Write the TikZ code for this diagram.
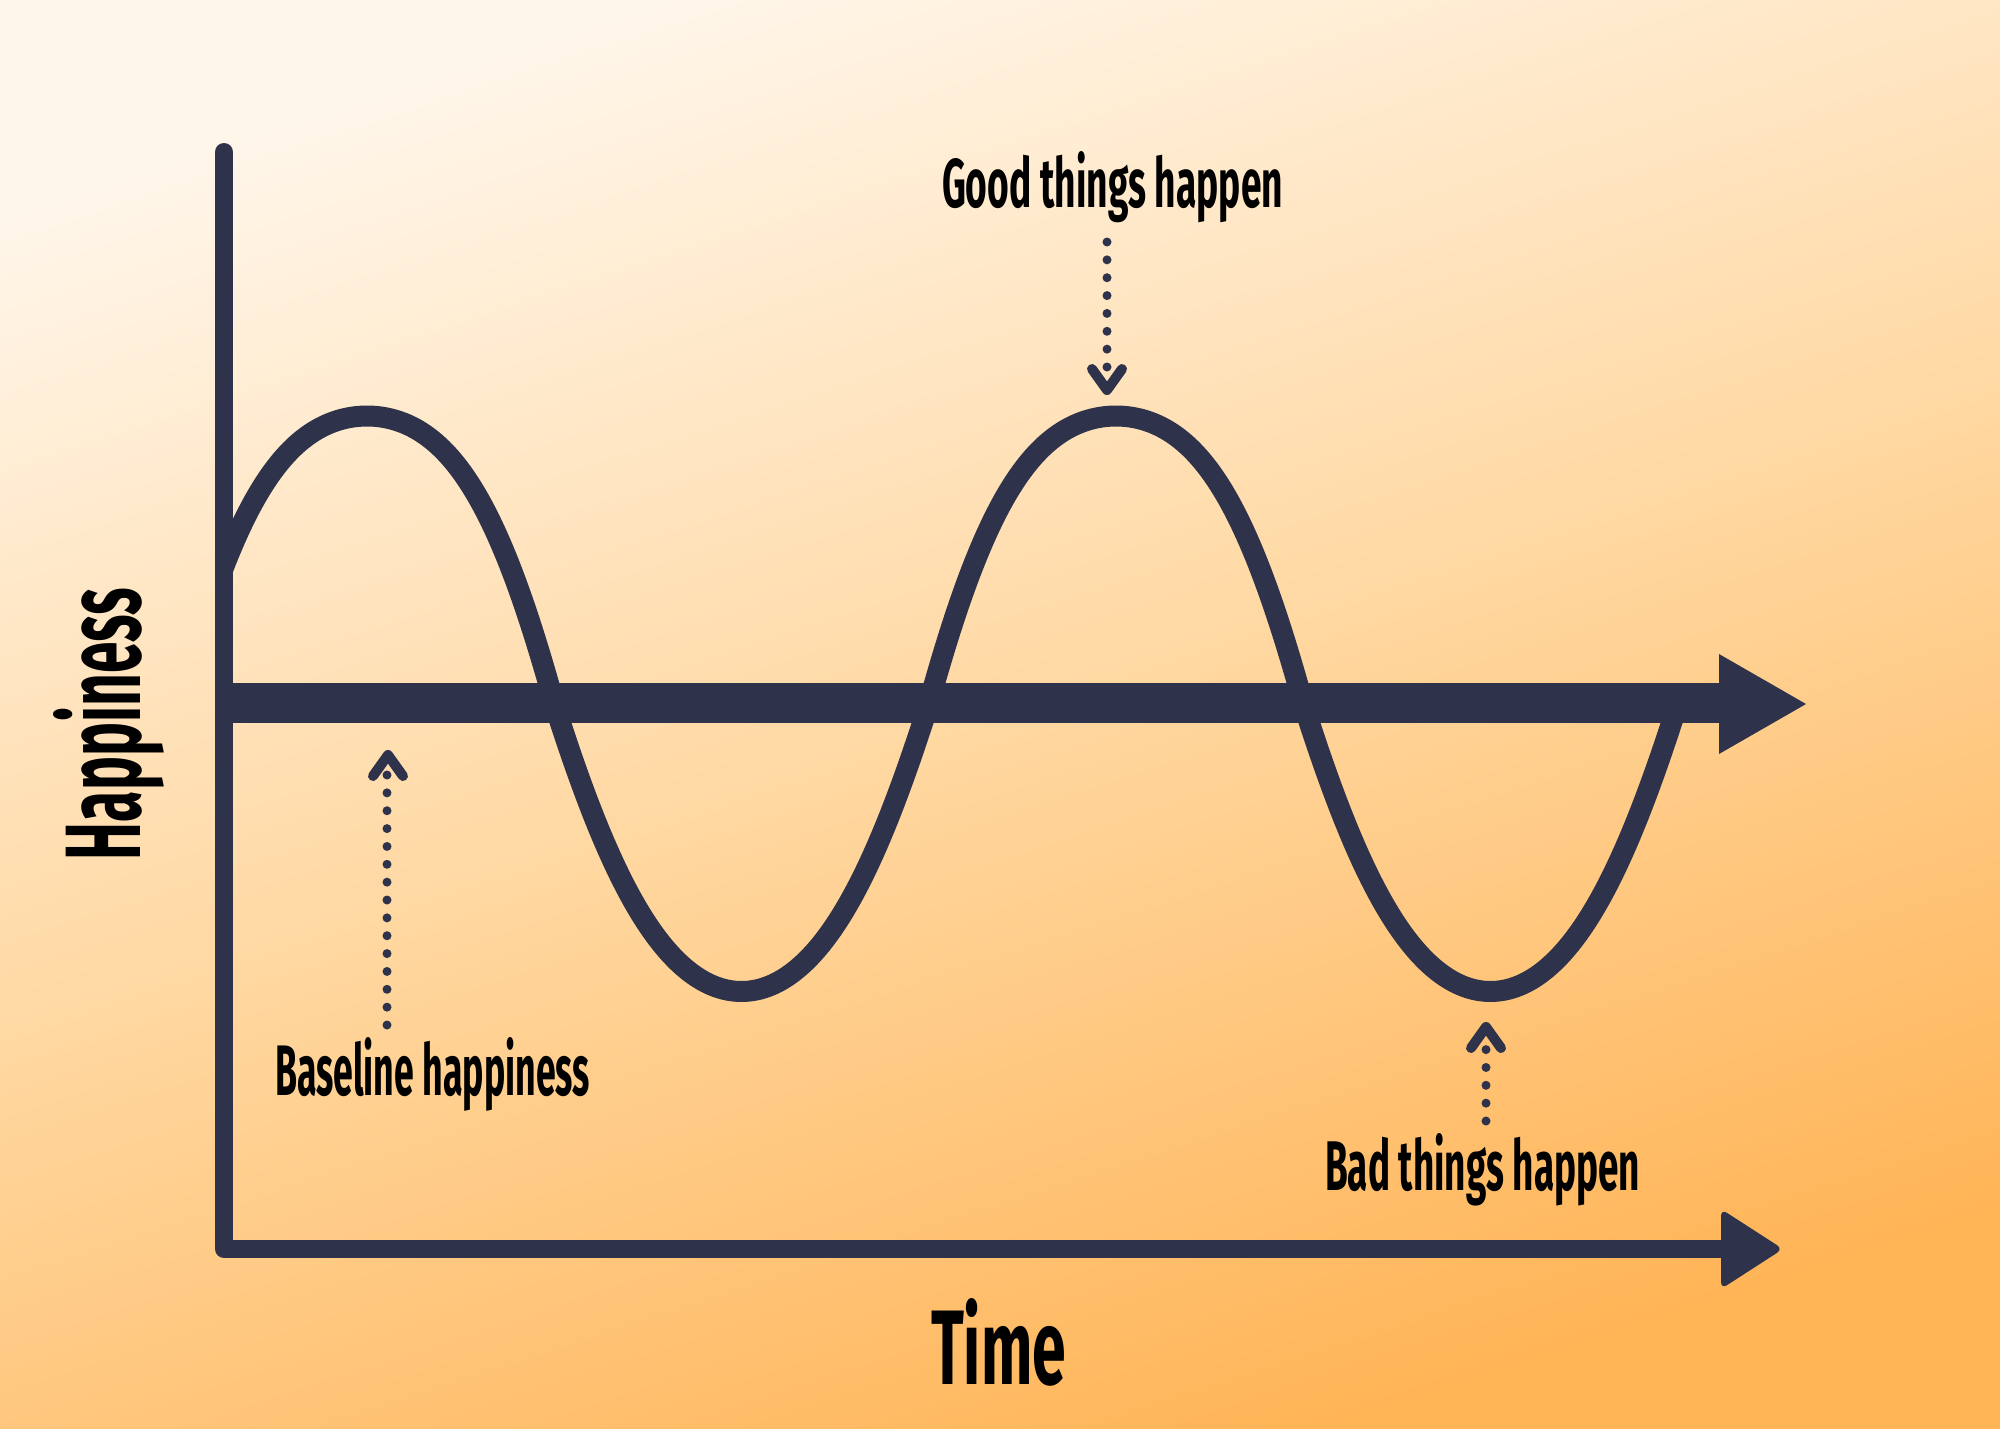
\documentclass[tikz,border=0pt]{standalone}
\usepackage{fontspec}
\setmainfont{Fira Sans}
\usepackage{graphicx}
\definecolor{navy}{HTML}{2E334B}
\definecolor{bgtop}{HTML}{FFF6EA}
\definecolor{bgmid}{HTML}{FFD8A2}
\definecolor{bgbot}{HTML}{FFB456}
\tikzset{
  axisline/.style={draw=navy, line width=18pt, line cap=round, line join=round},
  wave/.style={draw=navy, line width=21pt, line join=round},
  dotline/.style={draw=navy, line width=9pt, line cap=round, dash pattern=on 0pt off 17.857pt},
  chevron/.style={draw=navy, line width=10pt, line cap=round, line join=round},
  lbl/.style={inner sep=0pt, outer sep=0pt, text=black, font=\bfseries},
}
\begin{document}
\begin{tikzpicture}[x=1pt,y=-1pt,
  declare function={hh(\u)=\u*(1+ifthenelse(\u>0,0.5,0.3)*(1-abs(\u)));}]
\useasboundingbox (0,0) rectangle (2000,1428);
\shade[top color=bgtop, bottom color=bgbot, middle color=bgmid, shading angle=18] (0,0) rectangle (2000,1428);

% wave
\begin{scope}
\clip (224,0) rectangle (2000,1428);
\draw[wave] plot[domain=205:1681, samples=500] (\x, {703.75-287.75*hh(cos(0.480641*(\x-367)))});
\end{scope}

% baseline arrow
\coordinate (bstart) at (224,703);
\coordinate (bend) at (1722,703);
\coordinate (btip) at (1806,704);
\draw[navy, line width=40pt] (bstart) -- (bend);
\fill[navy] (1719,654) -- (btip) -- (1719,754) -- cycle;

% axes
\coordinate (ytop) at (224,152);
\coordinate (origin) at (224,1249);
\coordinate (xend) at (1730,1249);
\coordinate (xtip) at (1783,1249);
\draw[axisline] (ytop) -- (origin) -- (xend);
\fill[navy, rounded corners=7pt] (1721,1209) -- (xtip) -- (1721,1289) -- cycle;

% labels
\node[lbl, anchor=base west] (good) at (942,207) {\resizebox{341pt}{56pt}{Good things happen}};
\node[lbl, anchor=base west] (base) at (275,1095) {\resizebox{315pt}{58pt}{Baseline happiness}};
\node[lbl, anchor=base west] (bad) at (1325,1190) {\resizebox{315pt}{57pt}{Bad things happen}};
\node[lbl, anchor=base west] (time) at (931,1384) {\resizebox{135pt}{86pt}{Time}};
\node[lbl, rotate=90, anchor=base west] (happy) at (140,860) {\resizebox{272pt}{87pt}{Happiness}};

% good arrow
\coordinate (gs) at (1107,242);
\coordinate (ge) at (1107,367.1);
\coordinate (gtip) at (1107,390);
\draw[dotline] (gs) -- (ge);
\draw[chevron] (1092,369) -- (gtip) -- (1122,369);

% baseline arrow (dotted)
\coordinate (bs) at (387,1025);
\coordinate (be) at (387,774.9);
\coordinate (btipd) at (388,755);
\draw[dotline] (bs) -- (be);
\draw[chevron] (373,776) -- (btipd) -- (403,776);

% bad arrow
\coordinate (ds) at (1486,1121);
\coordinate (de) at (1486,1049.5);
\coordinate (dtip) at (1486,1027);
\draw[dotline, dash pattern=on 0pt off 17.85pt] (ds) -- (de);
\draw[chevron] (1471,1048) -- (dtip) -- (1501,1048);
\end{tikzpicture}
\end{document}
